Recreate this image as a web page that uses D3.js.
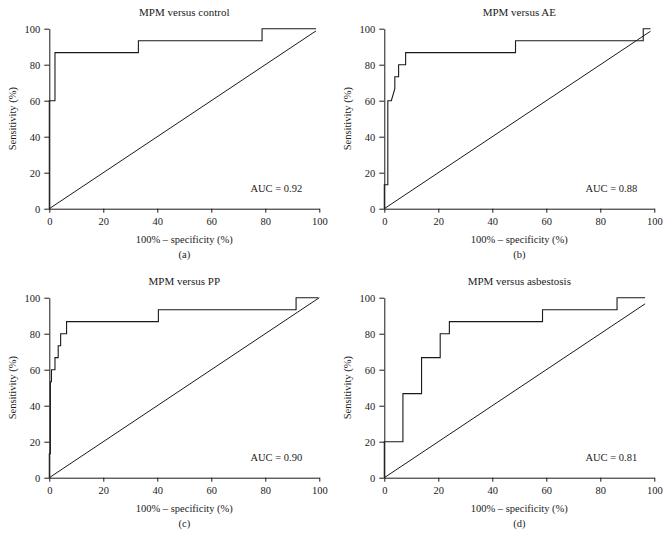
<!DOCTYPE html>
<html>
<head>
<meta charset="utf-8">
<script src="https://cdn.jsdelivr.net/npm/d3@7/dist/d3.min.js"></script>
<style>
html,body{margin:0;padding:0;background:#fff;}
svg{display:block;}
text{font-family:"Liberation Serif","DejaVu Serif",serif;fill:#1a1a1a;}
</style>
</head>
<body>
<svg id="chart" width="669" height="552"></svg>
<script>
// ---- data ----
const panelTitles = ["MPM versus control", "MPM versus AE", "MPM versus PP", "MPM versus asbestosis"];
const panelLetters = ["(a)", "(b)", "(c)", "(d)"];
const aucLabels = ["AUC = 0.92", "AUC = 0.88", "AUC = 0.90", "AUC = 0.81"];
const tickValues = [0, 20, 40, 60, 80, 100];
const xLabel = "100% \u2013 specificity (%)";
const yLabel = "Sensitivity (%)";

// ROC curves: 100% - specificity (x) and sensitivity (y)
const controlFpr = [0, 0, 2.1, 2.1, 33, 33, 78.8, 78.8, 98.8];
const controlTpr = [0, 60, 60, 86.7, 86.7, 93.3, 93.3, 100, 100];

const aeFpr = [0, 0, 1.3, 1.3, 2.6, 3.9, 3.9, 5.3, 5.3, 7.9, 7.9, 48.6, 48.6, 95.9, 95.9, 98.6];
const aeTpr = [0, 13.3, 13.3, 60, 60, 66.7, 73.3, 73.3, 80, 80, 86.7, 86.7, 93.3, 93.3, 100, 100];

const ppFpr = [0, 0, 0.4, 0.4, 0.8, 0.8, 2.1, 2.1, 3.3, 3.3, 4.2, 4.2, 6.4, 6.4, 40.4, 40.4, 91.4, 91.4, 99.6];
const ppTpr = [0, 13.3, 13.3, 53.3, 53.3, 60, 60, 66.7, 66.7, 73.3, 73.3, 80, 80, 86.7, 86.7, 93.3, 93.3, 100, 100];

const asbFpr = [0, 0, 6.9, 6.9, 13.8, 13.8, 20.7, 20.7, 24.1, 24.1, 58.6, 58.6, 86.2, 86.2, 96.6];
const asbTpr = [0, 20, 20, 46.7, 46.7, 66.7, 66.7, 80, 80, 86.7, 86.7, 93.3, 93.3, 100, 100];

// reference (chance) diagonal end points
const diagonalEnds = [98.8, 98.6, 100, 96.6];

const curves = [
  {fpr: controlFpr, tpr: controlTpr},
  {fpr: aeFpr, tpr: aeTpr},
  {fpr: ppFpr, tpr: ppTpr},
  {fpr: asbFpr, tpr: asbTpr}
];

// ---- layout ----
const svg = d3.select("#chart");
const plotW = 270, plotH = 180;
const origins = [[49.3, 28.7], [384.3, 28.7], [49.3, 297.7], [384.3, 297.7]];

curves.forEach((c, i) => {
  const [ox, oy] = origins[i];
  const g = svg.append("g").attr("transform", `translate(${ox},${oy})`);
  const x = d3.scaleLinear().domain([0, 100]).range([0, plotW]);
  const y = d3.scaleLinear().domain([0, 100]).range([plotH, 0]);

  // diagonal
  const diag = [[0, 0], [diagonalEnds[i], diagonalEnds[i]]];
  g.append("path")
    .attr("d", d3.line().x(d => x(d[0])).y(d => y(d[1]))(diag))
    .attr("fill", "none").attr("stroke", "#1a1a1a").attr("stroke-width", 1);

  // axes
  const xAxis = g.append("g").attr("transform", `translate(0,${plotH})`)
    .call(d3.axisBottom(x).tickValues(tickValues).tickSizeInner(4).tickSizeOuter(0).tickPadding(5));
  const yAxis = g.append("g")
    .call(d3.axisLeft(y).tickValues(tickValues).tickSizeInner(5).tickSizeOuter(0).tickPadding(4));
  [xAxis, yAxis].forEach(a => {
    a.selectAll("path,line").attr("stroke", "#1a1a1a").attr("stroke-width", 1);
    a.selectAll("text").style("font-family", '"Liberation Serif", serif')
      .style("font-size", "10.5px").attr("fill", "#1a1a1a");
  });

  // ROC curve
  const pts = c.fpr.map((v, k) => [v, c.tpr[k]]);
  g.append("path")
    .attr("d", d3.line().x(d => x(d[0])).y(d => y(d[1]))(pts))
    .attr("fill", "none").attr("stroke", "#1a1a1a").attr("stroke-width", 1.1);

  // title
  g.append("text").attr("x", plotW / 2).attr("y", -13)
    .attr("text-anchor", "middle").style("font-size", "11px").text(panelTitles[i]);

  // axis titles
  g.append("text").attr("x", plotW / 2).attr("y", plotH + 34)
    .attr("text-anchor", "middle").style("font-size", "10.5px").text(xLabel);
  g.append("text").attr("transform", `translate(-33,${plotH / 2}) rotate(-90)`)
    .attr("text-anchor", "middle").style("font-size", "10.5px").text(yLabel);

  // AUC
  g.append("text").attr("x", x(74.5)).attr("y", y(9.3))
    .style("font-size", "10.5px").text(aucLabels[i]);

  // panel letter
  g.append("text").attr("x", plotW / 2).attr("y", plotH + 49)
    .attr("text-anchor", "middle").style("font-size", "10.5px").text(panelLetters[i]);
});
</script>
</body>
</html>
